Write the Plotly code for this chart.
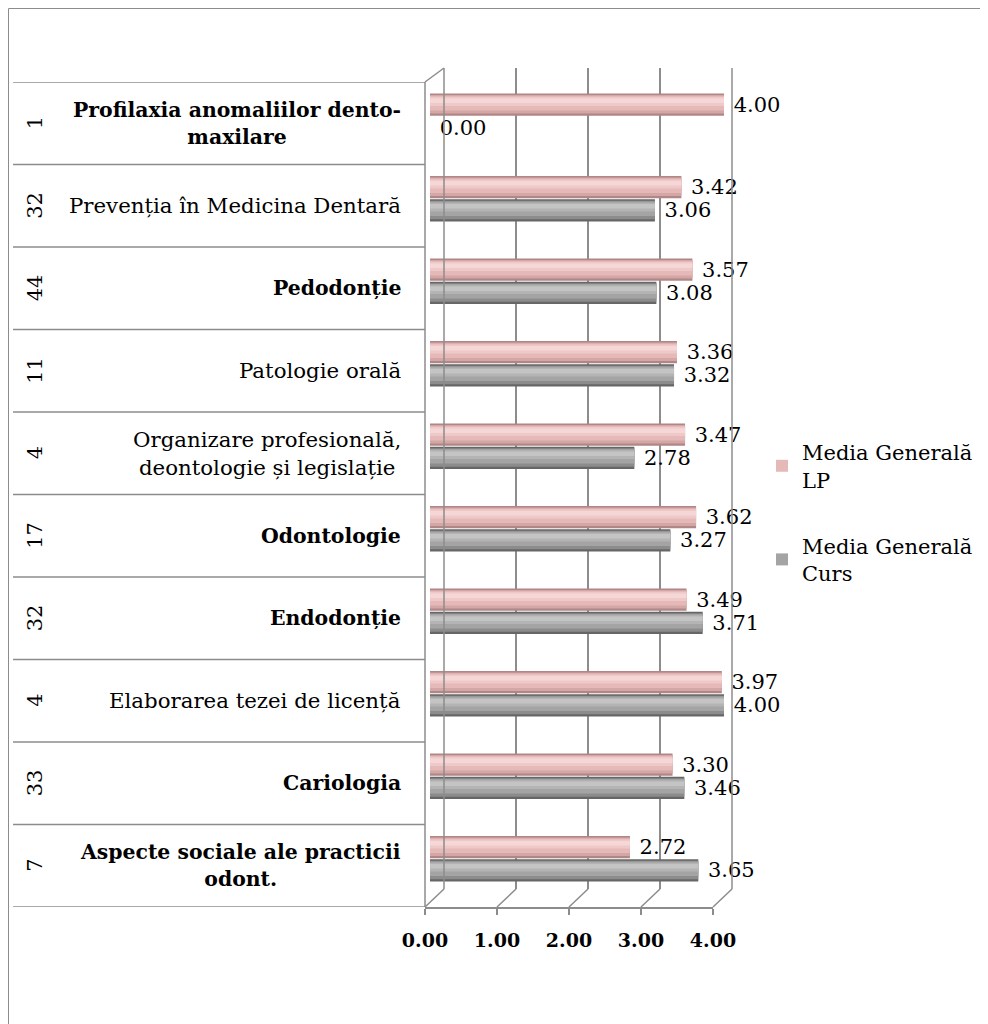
import plotly.graph_objects as go

# ---- data ----
numbers = ["1", "32", "44", "11", "4", "17", "32", "4", "33", "7"]
subjects = [
    "Profilaxia anomaliilor dento-maxilare",
    "Prevenția în Medicina Dentară",
    "Pedodonție",
    "Patologie orală",
    "Organizare profesională, deontologie și legislație",
    "Odontologie",
    "Endodonție",
    "Elaborarea tezei de licență",
    "Cariologia",
    "Aspecte sociale ale practicii odont.",
]
subject_lines = [
    "Profilaxia anomaliilor dento-<br>maxilare",
    "Prevenția în Medicina Dentară",
    "Pedodonție",
    "Patologie orală",
    "Organizare profesională,<br>deontologie și legislație",
    "Odontologie",
    "Endodonție",
    "Elaborarea tezei de licență",
    "Cariologia",
    "Aspecte sociale ale practicii<br>odont.",
]
subject_bold = [True, False, True, False, False, True, True, False, True, True]
media_lp = [4.00, 3.42, 3.57, 3.36, 3.47, 3.62, 3.49, 3.97, 3.30, 2.72]
media_curs = [0.00, 3.06, 3.08, 3.32, 2.78, 3.27, 3.71, 4.00, 3.46, 3.65]
ticks = [0, 1, 2, 3, 4]

# figure sits inside the page's 8px body margin
FW, FH = 980, 1016
def X(px):
    return (px - 8) / FW
def Y(py):
    return 1 - (py - 8) / FH

FONT = "DejaVu Serif"
LINE = "#8C8C8C"

series = [
    dict(name="Media Generală<br>LP", vals=media_lp, grp="lp", offset=-0.36,
         shades=["#B08686", "#D4A6A6", "#E6B9B9", "#EFC8C8", "#F6D7D7"]),
    dict(name="Media Generală<br>Curs", vals=media_curs, grp="curs", offset=-0.08,
         shades=["#666666", "#8C8C8C", "#A4A4A4", "#B4B4B4", "#C4C4C4"]),
]
BW = 0.27
# cylinder shading bands: (start fraction from top, end fraction)
bands = [(0.0, 1.0), (0.07, 0.9), (0.11, 0.76), (0.16, 0.56), (0.22, 0.42)]
LEGEND_BAND = 2

fig = go.Figure()

# empty traces to create helper subplots (grid wall, table, floor axis)
fig.add_trace(go.Scatter(x=[], y=[], xaxis="x", yaxis="y", showlegend=False, hoverinfo="skip"))
fig.add_trace(go.Scatter(x=[], y=[], xaxis="x2", yaxis="y2", showlegend=False, hoverinfo="skip"))
fig.add_trace(go.Scatter(x=[], y=[], xaxis="x3", yaxis="y3", showlegend=False, hoverinfo="skip"))

for s in series:
    for k, ((a, b), col) in enumerate(zip(bands, s["shades"])):
        kw = {}
        if k == 0:
            kw = dict(texttemplate="\u00a0%{x:.2f}", textposition="outside",
                      constraintext="none",
                      textfont=dict(family=FONT, size=21, color="black"))
        fig.add_trace(go.Bar(
            y=subjects, x=s["vals"], orientation="h", xaxis="x4", yaxis="y4",
            width=BW * (b - a), offset=s["offset"] + BW * a,
            legendgroup=s["grp"], name=s["name"], showlegend=(k == LEGEND_BAND),
            marker=dict(color=col, line=dict(width=0)), cliponaxis=False,
            hoverinfo="skip", **kw,
        ))

hidden = dict(visible=False, showgrid=False, zeroline=False, fixedrange=True)

fig.update_layout(
    width=FW, height=FH,
    margin=dict(l=0, r=0, t=0, b=0, autoexpand=False),
    paper_bgcolor="white", plot_bgcolor="rgba(0,0,0,0)",
    font=dict(family=FONT, size=20, color="black"),
    barmode="overlay",
    # back wall gridlines
    xaxis=dict(domain=[X(444), X(732)], range=[0, 4], dtick=1, showgrid=True,
               gridcolor=LINE, gridwidth=1.5, zeroline=False, showticklabels=False,
               showline=False, ticks="", anchor="y"),
    yaxis=dict(domain=[Y(889), Y(68)], range=[0, 1], **hidden, anchor="x"),
    # category table
    xaxis2=dict(domain=[X(13), X(425)], range=[0, 1], **hidden, anchor="y2"),
    yaxis2=dict(domain=[Y(907), Y(82)], range=[9.5, -0.5], **hidden, anchor="x2"),
    # floor axis with labels
    xaxis3=dict(domain=[X(425), X(713)], range=[0, 4], tickvals=ticks, tickformat=".2f",
                ticks="outside", ticklen=6, tickcolor=LINE, tickwidth=1.5,
                showline=True, linecolor=LINE, linewidth=1.5,
                showgrid=False, zeroline=False, ticklabelstandoff=9,
                tickfont=dict(family=FONT, size=19, color="black", weight="bold"),
                anchor="y3"),
    yaxis3=dict(domain=[Y(907), Y(82)], range=[0, 1], **hidden, anchor="x3"),
    # bars
    xaxis4=dict(domain=[X(430), X(724)], range=[0, 4], **hidden, anchor="y4"),
    yaxis4=dict(domain=[Y(907), Y(82)], autorange="reversed", type="category",
                **hidden, anchor="x4"),
    legend=dict(x=X(762), y=Y(432), xanchor="left", yanchor="top",
                font=dict(family=FONT, size=21, color="black"),
                traceorder="grouped", tracegroupgap=36, bgcolor="rgba(0,0,0,0)",
                itemwidth=30),
)

shapes = []
# outer frame (left and top edges visible)
shapes.append(dict(type="rect", xref="paper", yref="paper", x0=X(8.5), x1=X(1000),
                   y0=Y(1040), y1=Y(8.5), line=dict(color=LINE, width=1)))
# table horizontal lines at category boundaries
for i in range(len(subjects) + 1):
    shapes.append(dict(type="line", xref="paper", yref="y2", x0=X(13), x1=X(425),
                       y0=i - 0.5, y1=i - 0.5, line=dict(color=LINE, width=1.5)))
# 3D frame: left wall, top edge, right wall
shapes += [
    dict(type="line", xref="paper", yref="paper", x0=X(425), x1=X(425), y0=Y(907), y1=Y(82),
         line=dict(color=LINE, width=1.5)),
    dict(type="line", xref="paper", yref="paper", x0=X(425), x1=X(444), y0=Y(82), y1=Y(68),
         line=dict(color=LINE, width=1.5)),
    dict(type="line", xref="paper", yref="paper", x0=X(444), x1=X(444), y0=Y(889), y1=Y(68),
         line=dict(color=LINE, width=1.5)),
    dict(type="line", xref="paper", yref="paper", x0=X(732), x1=X(732), y0=Y(889), y1=Y(68),
         line=dict(color=LINE, width=1.5)),
]
# floor diagonals
for t in ticks:
    fx = 425 + t * (713 - 425) / 4
    bx = 444 + t * (732 - 444) / 4
    shapes.append(dict(type="line", xref="paper", yref="paper", x0=X(fx), x1=X(bx),
                       y0=Y(907), y1=Y(889), line=dict(color=LINE, width=1.5)))
fig.update_layout(shapes=shapes)

ann = []
for i, (num, lab, b) in enumerate(zip(numbers, subject_lines, subject_bold)):
    txt = f"<b>{lab}</b>" if b else lab
    ann.append(dict(xref="paper", yref="y2", x=X(403), y=i, text=txt, showarrow=False,
                    xanchor="right", yanchor="middle", align="center",
                    font=dict(family=FONT, size=20.4 if b else 21.3, color="black")))
    ann.append(dict(xref="paper", yref="y2", x=X(35), y=i, text=num, showarrow=False,
                    xanchor="center", yanchor="middle", textangle=-90,
                    font=dict(family=FONT, size=21, color="black")))
fig.update_layout(annotations=ann)

fig.write_html("out.html")
